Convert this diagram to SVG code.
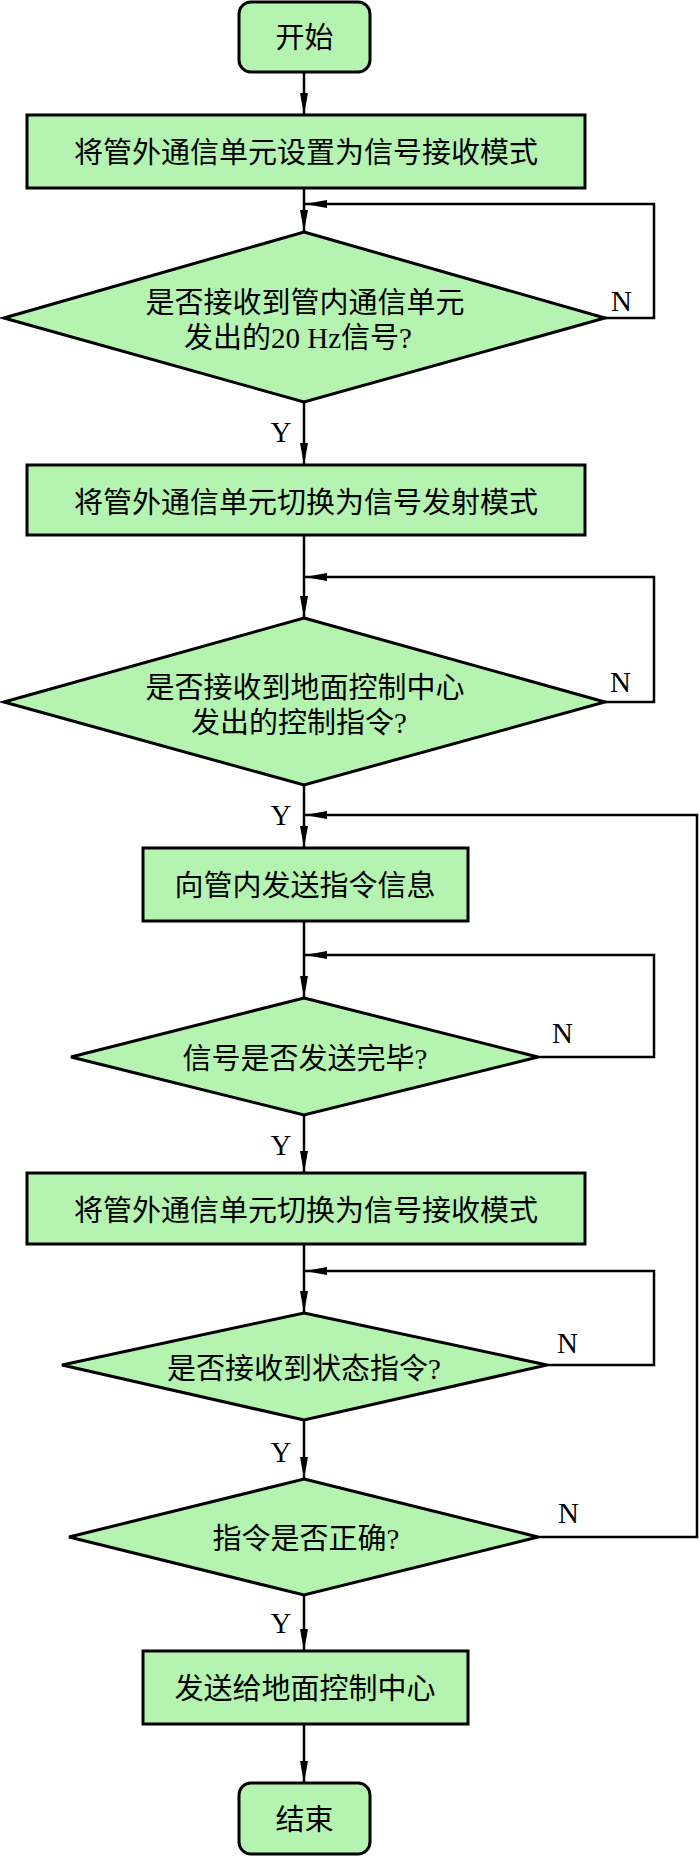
<svg xmlns="http://www.w3.org/2000/svg" width="700" height="1856" viewBox="0 0 700 1856">
<defs>
<marker id="arr" viewBox="0 0 22 8" refX="22" refY="4" markerWidth="22" markerHeight="8" markerUnits="userSpaceOnUse" orient="auto">
<path d="M0,0 L22,4 L0,8 z" fill="#000"/>
</marker>
<style>
.shape{fill:#b4f4b0;stroke:#000;stroke-width:3;stroke-linejoin:miter}
.t{font-family:"Liberation Serif","Noto Sans CJK SC",serif;font-size:29px;fill:#000;text-anchor:middle}
.lbl{font-family:"Liberation Serif",serif;font-size:29px;fill:#000}
.c{fill:none;stroke:#000;stroke-width:2.5}
</style>
</defs>
<rect width="700" height="1856" fill="#fff"/>
<g id="connectors">
<line class="c" x1="304" y1="72" x2="304" y2="115" marker-end="url(#arr)"/>
<line class="c" x1="304" y1="188" x2="304" y2="232" marker-end="url(#arr)"/>
<polyline class="c" points="605,318 654,318 654,204 305,204" marker-end="url(#arr)"/>
<line class="c" x1="304" y1="402" x2="304" y2="465" marker-end="url(#arr)"/>
<line class="c" x1="304" y1="535" x2="304" y2="618" marker-end="url(#arr)"/>
<polyline class="c" points="605,702 654,702 654,577 305,577" marker-end="url(#arr)"/>
<line class="c" x1="304" y1="785" x2="304" y2="848" marker-end="url(#arr)"/>
<polyline class="c" points="538,1537 697,1537 697,815 305,815" marker-end="url(#arr)"/>
<line class="c" x1="304" y1="921" x2="304" y2="998" marker-end="url(#arr)"/>
<polyline class="c" points="538,1057 654,1057 654,955 305,955" marker-end="url(#arr)"/>
<line class="c" x1="304" y1="1115" x2="304" y2="1173" marker-end="url(#arr)"/>
<line class="c" x1="304" y1="1244" x2="304" y2="1313" marker-end="url(#arr)"/>
<polyline class="c" points="547,1365 654,1365 654,1271 305,1271" marker-end="url(#arr)"/>
<line class="c" x1="304" y1="1420" x2="304" y2="1479" marker-end="url(#arr)"/>
<line class="c" x1="304" y1="1595" x2="304" y2="1651" marker-end="url(#arr)"/>
<line class="c" x1="304" y1="1724" x2="304" y2="1783" marker-end="url(#arr)"/>
<text class="lbl" x="611" y="311">N</text>
<text class="lbl" x="610" y="692">N</text>
<text class="lbl" x="552" y="1043">N</text>
<text class="lbl" x="557" y="1353">N</text>
<text class="lbl" x="558" y="1523">N</text>
<text class="lbl" x="281" y="442" text-anchor="middle">Y</text>
<text class="lbl" x="281" y="825" text-anchor="middle">Y</text>
<text class="lbl" x="281" y="1155" text-anchor="middle">Y</text>
<text class="lbl" x="281" y="1462" text-anchor="middle">Y</text>
<text class="lbl" x="281" y="1633" text-anchor="middle">Y</text>
</g>
<g id="start">
<rect class="shape" x="239" y="2" width="131" height="70" rx="12" ry="12"/>
<text class="t" x="304.5" y="48">开始</text>
</g>
<g id="box1">
<rect class="shape" x="27" y="115" width="558" height="73"/>
<text class="t" x="306" y="163">将管外通信单元设置为信号接收模式</text>
</g>
<g id="d1">
<polygon class="shape" points="304,232 605,318 304,402 4,318"/>
<text class="t" x="305" y="313">是否接收到管内通信单元</text>
<text class="t" x="298" y="348">发出的20 Hz信号?</text>
</g>
<g id="box2">
<rect class="shape" x="27" y="465" width="558" height="70"/>
<text class="t" x="306" y="513">将管外通信单元切换为信号发射模式</text>
</g>
<g id="d2">
<polygon class="shape" points="304,618 605,702 304,785 4,702"/>
<text class="t" x="305" y="698">是否接收到地面控制中心</text>
<text class="t" x="299" y="733">发出的控制指令?</text>
</g>
<g id="box3">
<rect class="shape" x="143" y="848" width="325" height="73"/>
<text class="t" x="305" y="896">向管内发送指令信息</text>
</g>
<g id="d3">
<polygon class="shape" points="304,998 538,1057 304,1115 71,1057"/>
<text class="t" x="305" y="1069">信号是否发送完毕?</text>
</g>
<g id="box4">
<rect class="shape" x="27" y="1173" width="558" height="71"/>
<text class="t" x="306" y="1221">将管外通信单元切换为信号接收模式</text>
</g>
<g id="d4">
<polygon class="shape" points="304,1313 547,1365 304,1420 62,1365"/>
<text class="t" x="304" y="1379">是否接收到状态指令?</text>
</g>
<g id="d5">
<polygon class="shape" points="304,1479 538,1537 304,1595 69,1537"/>
<text class="t" x="306" y="1549">指令是否正确?</text>
</g>
<g id="box5">
<rect class="shape" x="143" y="1651" width="325" height="73"/>
<text class="t" x="305" y="1699">发送给地面控制中心</text>
</g>
<g id="end">
<rect class="shape" x="239" y="1783" width="131" height="71" rx="12" ry="12"/>
<text class="t" x="304.5" y="1830">结束</text>
</g>
</svg>
